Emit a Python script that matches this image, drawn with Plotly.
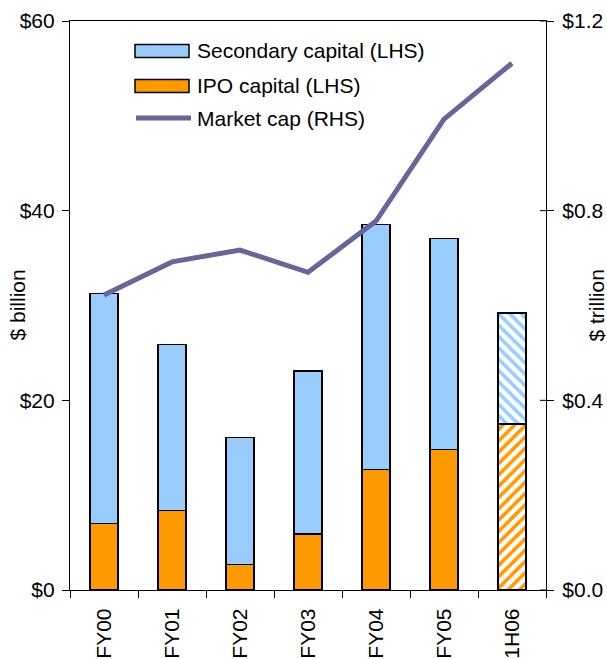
import plotly.graph_objects as go

# Capital raised ($ billion, left axis) and market capitalisation ($ trillion, right axis)
periods = ["FY00", "FY01", "FY02", "FY03", "FY04", "FY05", "1H06"]
ipo_capital = [7.0, 8.4, 2.7, 5.9, 12.7, 14.8, 17.5]
secondary_capital = [24.3, 17.5, 13.4, 17.2, 25.8, 22.3, 11.7]
market_cap = [0.622, 0.692, 0.717, 0.670, 0.778, 0.993, 1.111]

left_ticks = [0, 20, 40, 60]
left_tick_labels = ["$0", "$20", "$40", "$60"]
right_ticks = [0.0, 0.4, 0.8, 1.2]
right_tick_labels = ["$0.0", "$0.4", "$0.8", "$1.2"]

BLUE = "#99CCFF"
ORANGE = "#FF9900"
LINE = "#666699"
FONT = "Arial, Liberation Sans, sans-serif"
FS = 21

# the part-year bar is hatched
n_full = len(periods) - 1
ipo_pattern = [""] * n_full + ["/"]
sec_pattern = [""] * n_full + ["\\"]

fig = go.Figure()
fig.add_trace(go.Bar(
    x=periods, y=ipo_capital, name="IPO capital (LHS)",
    marker=dict(color=ORANGE, line=dict(color="black", width=1.2),
                pattern=dict(shape=ipo_pattern, fgcolor=ORANGE, bgcolor="white",
                             fgopacity=1, size=8, solidity=0.45, fillmode="replace")),
    showlegend=False,
))
fig.add_trace(go.Bar(
    x=periods, y=secondary_capital, name="Secondary capital (LHS)",
    marker=dict(color=BLUE, line=dict(color="black", width=1.2),
                pattern=dict(shape=sec_pattern, fgcolor=BLUE, bgcolor="white",
                             fgopacity=1, size=8, solidity=0.45, fillmode="replace")),
    showlegend=False,
))
fig.add_trace(go.Scatter(
    x=periods, y=market_cap, name="Market cap (RHS)", yaxis="y2",
    mode="lines", line=dict(color=LINE, width=5),
    showlegend=False,
))

W, H = 607, 659
L, R, T, B = 70, 61, 21, 69
pw, ph = W - L - R, H - T - B


def px_x(p):
    return (p - L) / pw


def px_y(p):
    return (H - B - p) / ph


shapes = []
annotations = []

# legend, drawn by hand so the swatches can be wide
legend_items = [
    ("Secondary capital (LHS)", "rect", BLUE, 51),
    ("IPO capital (LHS)", "rect", ORANGE, 86),
    ("Market cap (RHS)", "line", LINE, 118),
]
for label, kind, color, cy in legend_items:
    if kind == "rect":
        shapes.append(dict(type="rect", xref="paper", yref="paper",
                           x0=px_x(135), x1=px_x(189), y0=px_y(cy - 6.5), y1=px_y(cy + 6.5),
                           fillcolor=color, line=dict(color="black", width=1.5)))
    else:
        shapes.append(dict(type="line", xref="paper", yref="paper",
                           x0=px_x(136), x1=px_x(191), y0=px_y(cy), y1=px_y(cy),
                           line=dict(color=color, width=5)))
    annotations.append(dict(text=label, xref="paper", yref="paper",
                            x=px_x(195), y=px_y(cy), xanchor="left", yanchor="middle",
                            showarrow=False, font=dict(size=FS, family=FONT, color="black")))

# inward half of the crossing ticks on the right axis
for v in right_ticks:
    shapes.append(dict(type="line", xref="paper", yref="y2",
                       x0=1, x1=1 - 6 / pw, y0=v, y1=v,
                       line=dict(color="black", width=1)))

# axis titles
annotations.append(dict(text="$ billion", xref="paper", yref="paper",
                        x=px_x(17), y=0.5, textangle=-90, showarrow=False,
                        xanchor="center", yanchor="middle",
                        font=dict(size=FS, family=FONT, color="black")))
annotations.append(dict(text="$ trillion", xref="paper", yref="paper",
                        x=px_x(596), y=0.5, textangle=-90, showarrow=False,
                        xanchor="center", yanchor="middle",
                        font=dict(size=FS, family=FONT, color="black")))

fig.update_layout(
    width=W, height=H,
    margin=dict(l=L, r=R, t=T, b=B, pad=0),
    paper_bgcolor="white", plot_bgcolor="white",
    barmode="stack", bargap=0.59,
    font=dict(family=FONT, size=FS, color="black"),
    xaxis=dict(
        type="category", tickangle=-90, tickson="boundaries", automargin=False,
        ticks="outside", ticklen=7, tickcolor="black", tickwidth=1,
        showline=True, linecolor="black", linewidth=1.2, mirror=True,
        showgrid=False, zeroline=False, ticklabelstandoff=9,
        tickfont=dict(size=FS, family=FONT),
    ),
    yaxis=dict(
        range=[0, 60], tickmode="array", tickvals=left_ticks, ticktext=left_tick_labels,
        ticks="outside", ticklen=7, tickcolor="black", tickwidth=1, automargin=False,
        showline=True, linecolor="black", linewidth=1.2,
        showgrid=False, zeroline=False, ticklabelstandoff=3,
        tickfont=dict(size=FS, family=FONT),
    ),
    yaxis2=dict(
        range=[0, 1.2], tickmode="array", tickvals=right_ticks, ticktext=right_tick_labels,
        overlaying="y", side="right", automargin=False,
        ticks="outside", ticklen=7, tickcolor="black", tickwidth=1,
        showline=True, linecolor="black", linewidth=1.2,
        showgrid=False, zeroline=False, ticklabelstandoff=4,
        tickfont=dict(size=FS, family=FONT),
    ),
    shapes=shapes,
    annotations=annotations,
)

fig.write_html("out.html")
